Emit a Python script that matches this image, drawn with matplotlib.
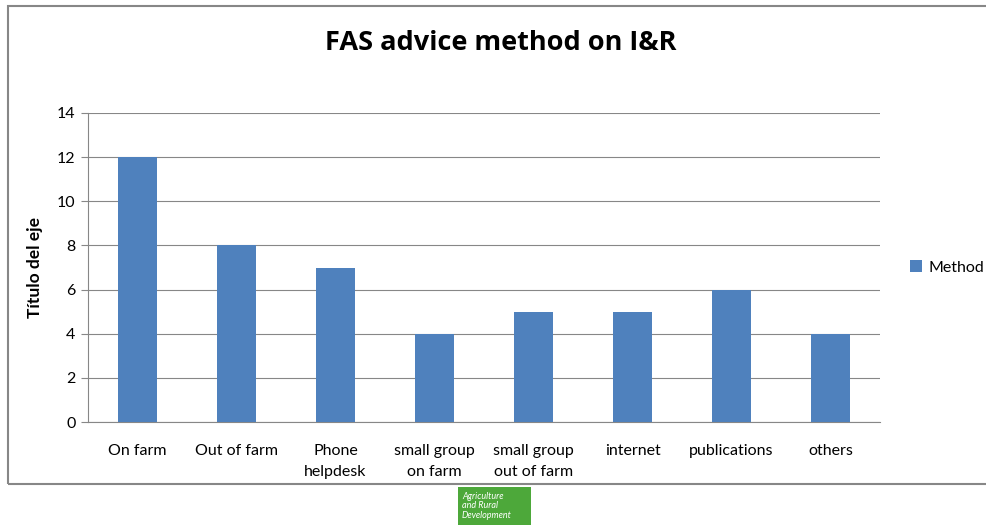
import matplotlib
matplotlib.use('Agg')
import matplotlib.pyplot as plt
from matplotlib.patches import Rectangle

categories = ['On farm', 'Out of farm', 'Phone\nhelpdesk', 'small group\non farm',
              'small group\nout of farm', 'internet', 'publications', 'others']
values = [12, 8, 7, 4, 5, 5, 6, 4]
yticks = [0, 2, 4, 6, 8, 10, 12, 14]

plt.rcParams['font.family'] = ['Lato', 'DejaVu Sans']

fig = plt.figure(figsize=(9.86, 5.27), dpi=100)
W, H = 986, 527

# outer chart frame
fig.patches.append(Rectangle((8 / W, 1 - 484 / H), (W + 10 - 8) / W, (484 - 6) / H,
                             transform=fig.transFigure, fill=False,
                             edgecolor='#878787', linewidth=1.5))

ax = fig.add_axes([88 / W, 1 - 422 / H, (880 - 88) / W, (422 - 113) / H])
x = range(len(categories))
ax.bar(x, values, width=0.4, color='#4F81BD', zorder=3, label='Method')
ax.set_xlim(-0.5, len(categories) - 0.5)
ax.set_ylim(0, 14)
ax.set_yticks(yticks)
ax.set_xticks(list(x))
ax.set_xticklabels(categories, fontsize=11.5, linespacing=1.6)
ax.tick_params(axis='x', length=0, pad=16)
ax.tick_params(axis='y', length=5, color='#878787', labelsize=11.5, pad=4)
ax.grid(axis='y', color='#878787', linewidth=0.8, zorder=0)
for s in ['top', 'right']:
    ax.spines[s].set_visible(False)
ax.spines['left'].set_color('#878787')
ax.spines['bottom'].set_color('#878787')
ax.set_ylabel('Título del eje', fontsize=12.5, fontweight='bold', labelpad=10)

fig.text(501 / W, 1 - 43 / H, 'FAS advice method on I&R', ha='center', va='center',
         fontsize=19.5, fontweight='bold', family=['Open Sans', 'DejaVu Sans'])

ax.legend(loc='center left', bbox_to_anchor=(1.02, 0.5), frameon=False,
          fontsize=11.5, handlelength=0.75, handleheight=0.75, handletextpad=0.4)

# logo below the chart
fig.patches.append(Rectangle((458 / W, 1 - 525 / H), (531 - 458) / W, (525 - 487) / H,
                             transform=fig.transFigure, facecolor='#4DA83A',
                             edgecolor='none'))
fig.text(462 / W, 1 - 506 / H, 'Agriculture\nand Rural\nDevelopment', ha='left',
         va='center', fontsize=6.5, style='italic', color='white', linespacing=1.1)

fig.savefig('out.png', dpi=100)
